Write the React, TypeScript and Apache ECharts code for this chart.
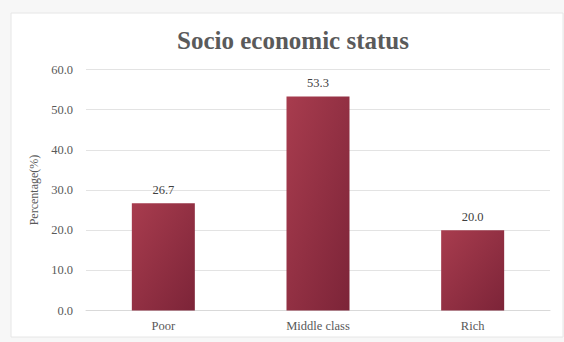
import React, { useEffect, useRef } from "react";
import * as echarts from "echarts";

const categories = ["Poor", "Middle class", "Rich"];
const values = [26.7, 53.3, 20.0];
const yTicks = { min: 0, max: 60, interval: 10 };
const titleText = "Socio economic status";
const yName = "Percentage(%)";

export default function App() {
  const ref = useRef<HTMLDivElement>(null);
  useEffect(() => {
    document.body.style.margin = "0";
    const chart = echarts.init(ref.current!, null, { renderer: "svg" });
    const font = "'Liberation Serif', 'Times New Roman', serif";
    chart.setOption({
      animation: false,
      backgroundColor: "#f7f7f7",
      graphic: [
        {
          type: "rect",
          shape: { x: 11, y: 13, width: 552, height: 324 },
          style: { fill: "#ffffff", stroke: "#e6e6e6", lineWidth: 1 },
          z: -10,
        },
      ],
      title: {
        text: titleText,
        left: 288,
        textAlign: "center",
        top: 23,
        textStyle: { fontFamily: font, fontWeight: "bold", fontSize: 25, color: "#5a5a5a" },
      },
      grid: { left: 86, right: 14, top: 69.5, bottom: 31.5 },
      xAxis: {
        type: "category",
        data: categories,
        axisTick: { show: false },
        axisLine: { lineStyle: { color: "#d9d9d9" } },
        axisLabel: { fontFamily: font, fontSize: 12.5, color: "#595959", margin: 9 },
      },
      yAxis: {
        type: "value",
        min: yTicks.min,
        max: yTicks.max,
        interval: yTicks.interval,
        name: yName,
        nameLocation: "middle",
        nameGap: 45,
        nameRotate: 90,
        nameTextStyle: { fontFamily: font, fontSize: 12, color: "#595959" },
        axisLabel: {
          fontFamily: font,
          fontSize: 12.5,
          color: "#595959",
          margin: 13,
          formatter: (v: number) => v.toFixed(1),
        },
        splitLine: { lineStyle: { color: "#e3e3e3" } },
      },
      series: [
        {
          type: "bar",
          data: values,
          barWidth: 63,
          itemStyle: {
            color: new echarts.graphic.LinearGradient(0, 0, 1, 1, [
              { offset: 0, color: "#a83c4e" },
              { offset: 1, color: "#7c2438" },
            ]),
          },
          label: {
            show: true,
            position: "top",
            distance: 7,
            fontFamily: font,
            fontSize: 12.5,
            color: "#404040",
            formatter: (p: any) => Number(p.value).toFixed(1),
          },
        },
      ],
    });
    return () => chart.dispose();
  }, []);
  return <div ref={ref} style={{ width: 564, height: 342 }} />;
}
